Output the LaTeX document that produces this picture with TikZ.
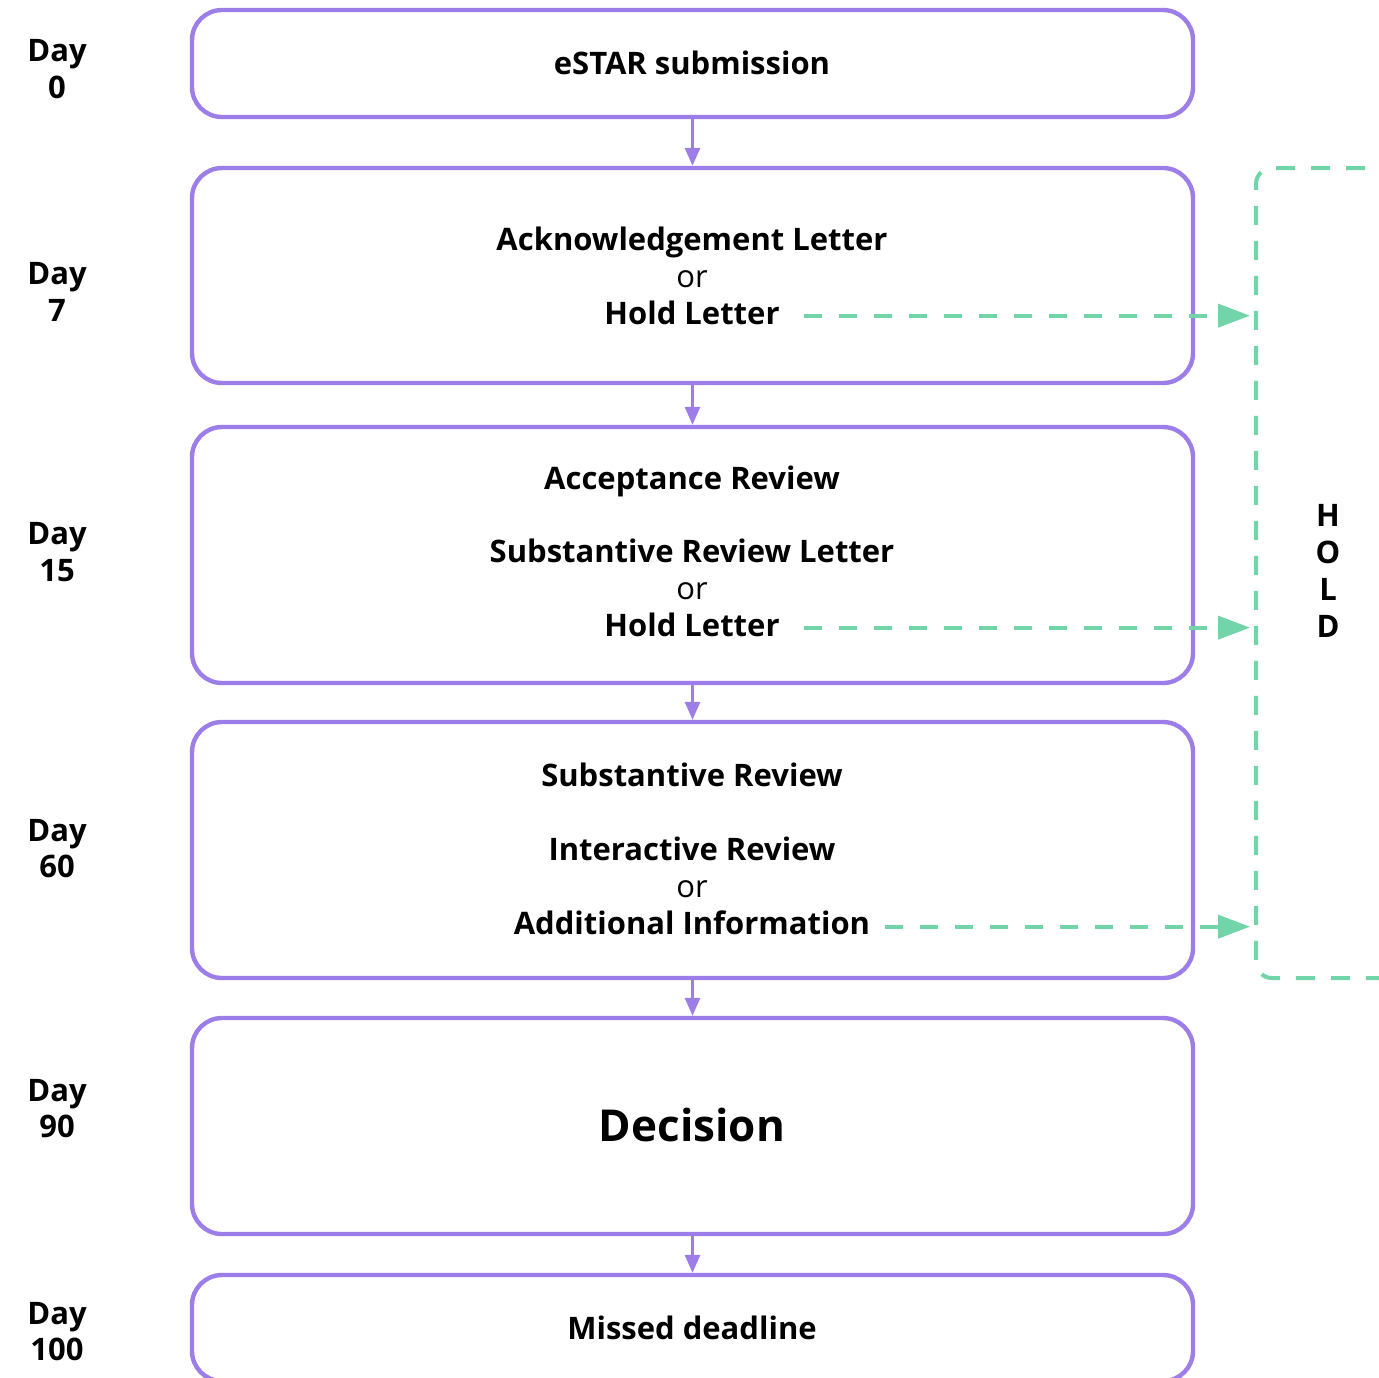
\documentclass[tikz,border=0pt]{standalone}
\usepackage{fontspec}
\setmainfont{Open Sans}
\usetikzlibrary{arrows.meta}
\definecolor{purp}{HTML}{9D7EE8}
\definecolor{grn}{HTML}{72D5A9}
\tikzset{
  box/.style={draw=purp, line width=2.2pt, rounded corners=15pt, inner sep=0pt},
  txt/.style={anchor=base, font=\bfseries\fontsize{15.5}{18}\selectfont, inner sep=0pt, text=black},
  ortxt/.style={anchor=base, font=\fontsize{15.5}{18}\selectfont, inner sep=0pt, text=black},
  daytxt/.style={anchor=base, font=\bfseries\fontsize{15.5}{18}\selectfont, inner sep=0pt, text=black},
  flow/.style={draw=purp, line width=1.5pt, -{Triangle[length=9pt,width=7.5pt]}},
  holdarrow/.style={draw=grn, line width=2pt, dash pattern=on 9pt off 8.5pt, -{Triangle[length=16pt,width=11.5pt]}},
  holdbox/.style={draw=grn, line width=2pt, dash pattern=on 9.5pt off 8pt, rounded corners=8pt, inner sep=0pt}
}
\begin{document}
\begin{tikzpicture}[x=0.5pt,y=-0.5pt]
\clip (0,0) rectangle (1379,1377);
\fill[white] (0,0) rectangle (1379,1377);
% boxes
\node[box, minimum width=500.5pt, minimum height=53.5pt] (b1) at (692.5,63.5) {};
\node[box, minimum width=500.5pt, minimum height=107.5pt] (b2) at (692.5,275.5) {};
\node[box, minimum width=500.5pt, minimum height=128pt] (b3) at (692.5,555) {};
\node[box, minimum width=500.5pt, minimum height=128pt] (b4) at (692.5,850) {};
\node[box, minimum width=500.5pt, minimum height=108pt] (b5) at (692.5,1126) {};
\node[box, minimum width=500.5pt, minimum height=53pt] (b6) at (692.5,1328) {};
% hold bracket
\node[holdbox, minimum width=150pt, minimum height=405pt] (hold) at (1406,573) {};
% texts
\node[txt] (t1) at (692,74) {eSTAR submission};
\node[txt] (t2a) at (692,250) {Acknowledgement Letter};
\node[ortxt] (t2b) at (692,287) {or};
\node[txt] (hl1) at (692,324) {Hold Letter};
\node[txt] (t3a) at (692,489) {Acceptance Review};
\node[txt] (t3b) at (692,562) {Substantive Review Letter};
\node[ortxt] (t3c) at (692,599) {or};
\node[txt] (hl2) at (692,636) {Hold Letter};
\node[txt] (t4a) at (692,786) {Substantive Review};
\node[txt] (t4b) at (692,860) {Interactive Review};
\node[ortxt] (t4c) at (692,897) {or};
\node[txt] (hl3) at (692,934) {Additional Information};
\node[anchor=base, font=\bfseries\fontsize{22}{26}\selectfont, inner sep=0pt] (t5) at (692,1141) {Decision};
\node[txt] (t6) at (692,1339) {Missed deadline};
% day labels
\node[daytxt] (d0a) at (57,61) {Day};
\node[daytxt] (d0b) at (57,98) {0};
\node[daytxt] (d7a) at (57,284) {Day};
\node[daytxt] (d7b) at (57,321) {7};
\node[daytxt] (d15a) at (57,544) {Day};
\node[daytxt] (d15b) at (57,581) {15};
\node[daytxt] (d60a) at (57,841) {Day};
\node[daytxt] (d60b) at (57,877) {60};
\node[daytxt] (d90a) at (57,1101) {Day};
\node[daytxt] (d90b) at (57,1137) {90};
\node[daytxt] (d100a) at (57,1324) {Day};
\node[daytxt] (d100b) at (57,1360) {100};
% HOLD letters
\node[daytxt] (hH) at (1328,526) {H};
\node[daytxt] (hO) at (1328,563) {O};
\node[daytxt] (hL) at (1328,600) {L};
\node[daytxt] (hD) at (1328,637) {D};
% flow arrows
\draw[flow] (b1.south) -- (b2.north);
\draw[flow] (b2.south) -- (b3.north);
\draw[flow] (b3.south) -- (b4.north);
\draw[flow] (b4.south) -- (b5.north);
\draw[flow] (b5.south) -- (b6.north);
% hold arrows
\draw[holdarrow, shorten >=2pt] ([xshift=12pt,yshift=1.5pt]hl1.mid east) -- ([yshift=1.5pt]hold.west |- hl1.mid east);
\draw[holdarrow, shorten >=2pt] ([xshift=12pt,yshift=1.5pt]hl2.mid east) -- ([yshift=1.5pt]hold.west |- hl2.mid east);
\draw[holdarrow, shorten >=2pt] ([xshift=7pt,yshift=1pt]hl3.mid east) -- ([yshift=1pt]hold.west |- hl3.mid east);
\end{tikzpicture}
\end{document}
